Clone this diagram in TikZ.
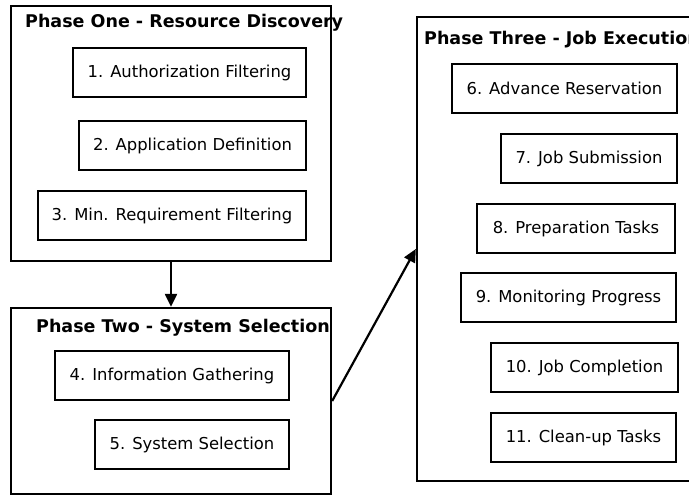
\documentclass[tikz,border=0pt]{standalone}
\usepackage{fontspec}
\setmainfont{DejaVu Sans}
\usetikzlibrary{arrows.meta}

\tikzset{
	stepbox/.style={draw, line width=2pt, inner sep=0pt, font=\fontsize{16.4}{19}\selectfont},
	phasebox/.style={draw, line width=2.3pt, inner sep=0pt},
	phasetitle/.style={anchor=west, inner sep=0pt, font=\fontsize{17.5}{20}\selectfont\bfseries},
	flow/.style={line width=2.2pt, -{Triangle[length=13pt,width=12pt]}}
}

\begin{document}
\begin{tikzpicture}[x=1pt, y=-1pt]
		\clip (0,0) rectangle (689,497);
		\useasboundingbox (0,0) rectangle (689,497);

		% phase one
		\node[phasebox, minimum width=320pt, minimum height=255pt] (p1) at (171,133.5) {};
		\node[phasetitle] (t1) at (25,23) {Phase One - Resource Discovery};
		\node[stepbox, minimum width=233pt, minimum height=49pt] (s1) at (189.5,72.5) {1. Authorization Filtering};
		\node[stepbox, minimum width=227pt, minimum height=49pt] (s2) at (192.5,145.5) {2. Application Definition};
		\node[stepbox, minimum width=268pt, minimum height=49pt] (s3) at (172,215.5) {3. Min. Requirement Filtering};

		% phase two
		\node[phasebox, minimum width=320pt, minimum height=186pt] (p2) at (171,401) {};
		\node[phasetitle] (t2) at (36,328) {Phase Two - System Selection};
		\node[stepbox, minimum width=234pt, minimum height=49pt] (s4) at (172,375.5) {4. Information Gathering};
		\node[stepbox, minimum width=194pt, minimum height=49pt] (s5) at (192,444.5) {5. System Selection};

		% phase three
		\node[phasebox, minimum width=283pt, minimum height=464pt] (p3) at (558.5,249) {};
		\node[phasetitle] (t3) at (424,40) {Phase Three - Job Execution};
		\node[stepbox, minimum width=225pt, minimum height=49pt] (s6) at (564.5,88.5) {6. Advance Reservation};
		\node[stepbox, minimum width=176pt, minimum height=49pt] (s7) at (589,158.5) {7. Job Submission};
		\node[stepbox, minimum width=198pt, minimum height=49pt] (s8) at (576,228.5) {8. Preparation Tasks};
		\node[stepbox, minimum width=215pt, minimum height=49pt] (s9) at (568.5,297.5) {9. Monitoring Progress};
		\node[stepbox, minimum width=187pt, minimum height=49pt] (s10) at (584.5,367.5) {10. Job Completion};
		\node[stepbox, minimum width=185pt, minimum height=49pt] (s11) at (583.5,437.5) {11. Clean-up Tasks};

		\draw[flow] (p1.south) -- (p2.north);
		\draw[flow] (p2.east) -- (p3.west);
	\end{tikzpicture}
\end{document}
